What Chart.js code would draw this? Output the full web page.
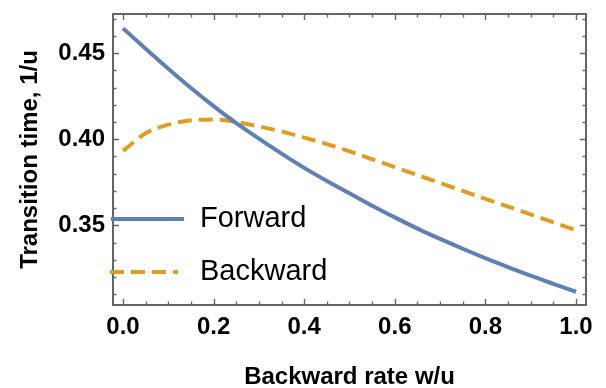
<!DOCTYPE html>
<html>
<head>
<meta charset="utf-8">
<script src="https://cdn.jsdelivr.net/npm/chart.js@4"></script>
<style>
  html, body { margin: 0; padding: 0; background: #fff; }
  #wrap { width: 606px; height: 388px; }
</style>
</head>
<body>
<div id="wrap"><canvas id="chart"></canvas></div>
<script>
// values
const rates = [0, 0.05, 0.1, 0.15, 0.2, 0.25, 0.3, 0.35, 0.4, 0.45, 0.5,
  0.55, 0.6, 0.65, 0.7, 0.75, 0.8, 0.85, 0.9, 0.95, 1.0];
const forward = [0.4645, 0.4526, 0.4410, 0.4298, 0.4193, 0.4094, 0.4004, 0.3917, 0.3834, 0.3758, 0.3686,
  0.3614, 0.3546, 0.3481, 0.3421, 0.3364, 0.3309, 0.3257, 0.3207, 0.3160, 0.3114];
const backward = [0.3932, 0.4035, 0.4085, 0.4110, 0.4115, 0.4100, 0.4075, 0.4045, 0.4010, 0.3972, 0.3930,
  0.3884, 0.3838, 0.3792, 0.3746, 0.3700, 0.3654, 0.3609, 0.3563, 0.3517, 0.3471];
const seriesNames = ['Forward', 'Backward'];

const xTicks = [0, 0.2, 0.4, 0.6, 0.8, 1.0];
const xTickLabels = ['0.0', '0.2', '0.4', '0.6', '0.8', '1.0'];
const yTicks = [0.35, 0.40, 0.45];
const yTickLabels = ['0.35', '0.40', '0.45'];

const FONT = '"Liberation Sans", Arial, Helvetica, sans-serif';
const AXIS = '#666666';

const toPoints = ys => rates.map((x, i) => ({ x: x, y: ys[i] }));

// frame with inward ticks on all four sides
const framePlugin = {
  id: 'frame',
  afterDraw(chart) {
    const { ctx, chartArea: a, scales } = chart;
    const sx = scales.x, sy = scales.y;
    ctx.save();
    ctx.strokeStyle = AXIS;
    ctx.lineWidth = 1.4;
    ctx.beginPath();
    for (let v = 0; v <= 1.0001; v += 0.05) {
      const px = Math.round(sx.getPixelForValue(v)) + 0.5;
      const major = Math.abs(v * 5 - Math.round(v * 5)) < 1e-6;
      const len = major ? 6 : 3.5;
      ctx.moveTo(px, a.bottom); ctx.lineTo(px, a.bottom - len);
      ctx.moveTo(px, a.top); ctx.lineTo(px, a.top + len);
    }
    for (let v = 0.31; v <= 0.4701; v += 0.01) {
      const py = Math.round(sy.getPixelForValue(v)) + 0.5;
      const major = Math.abs(v * 20 - Math.round(v * 20)) < 1e-6;
      const len = major ? 6 : 3.5;
      ctx.moveTo(a.left, py); ctx.lineTo(a.left + len, py);
      ctx.moveTo(a.right, py); ctx.lineTo(a.right - len, py);
    }
    ctx.stroke();
    ctx.lineWidth = 2;
    ctx.strokeRect(a.left, a.top, a.right - a.left, a.bottom - a.top);
    ctx.restore();
  }
};

// legend inside the plot, lower left
const legendPlugin = {
  id: 'insideLegend',
  afterDraw(chart) {
    const { ctx } = chart;
    const rows = [
      { y: 219, x0: 111, x1: 184 },
      { y: 272, x0: 110, x1: 178 }
    ];
    ctx.save();
    chart.data.datasets.forEach((ds, i) => {
      const r = rows[i];
      ctx.strokeStyle = ds.borderColor;
      ctx.lineWidth = ds.borderWidth;
      ctx.setLineDash(ds.borderDash || []);
      ctx.beginPath();
      ctx.moveTo(r.x0, r.y);
      ctx.lineTo(r.x1, r.y);
      ctx.stroke();
      ctx.setLineDash([]);
      ctx.fillStyle = '#000';
      ctx.font = '29px ' + FONT;
      ctx.textBaseline = 'middle';
      ctx.fillText(ds.label, 200, r.y);
    });
    ctx.restore();
  }
};

new Chart(document.getElementById('chart'), {
  type: 'line',
  data: {
    datasets: [
      {
        label: seriesNames[0],
        data: toPoints(forward),
        borderColor: '#5E81B5',
        borderWidth: 4,
        pointRadius: 0,
        cubicInterpolationMode: 'monotone',
        fill: false
      },
      {
        label: seriesNames[1],
        data: toPoints(backward),
        borderColor: '#E19C24',
        borderWidth: 4,
        borderDash: [14, 7],
        pointRadius: 0,
        cubicInterpolationMode: 'monotone',
        fill: false
      }
    ]
  },
  options: {
    responsive: true,
    maintainAspectRatio: false,
    animation: false,
    layout: { padding: { top: 14, right: 20, left: 0, bottom: 0 } },
    plugins: {
      legend: { display: false },
      tooltip: { enabled: false }
    },
    scales: {
      x: {
        type: 'linear',
        min: -0.0221,
        max: 1.0221,
        afterBuildTicks: s => { s.ticks = xTicks.map(v => ({ value: v })); },
        afterFit: s => { s.height = 83; s.paddingLeft = 0; s.paddingRight = 0; },
        grid: { display: false, drawTicks: false },
        border: { display: false },
        ticks: {
          autoSkip: false,
          maxRotation: 0,
          padding: 8,
          color: '#000',
          font: { family: FONT, size: 24, weight: 'bold' },
          callback: (v, i) => xTickLabels[i]
        },
        title: {
          display: true,
          text: 'Backward rate w/u',
          color: '#000',
          font: { family: FONT, size: 24, weight: 'bold', lineHeight: 1 },
          padding: { top: 0, bottom: -1 }
        }
      },
      y: {
        min: 0.3037,
        max: 0.4728,
        afterBuildTicks: s => { s.ticks = yTicks.map(v => ({ value: v })); },
        afterFit: s => { s.width = 113; s.paddingTop = 0; s.paddingBottom = 0; },
        grid: { display: false, drawTicks: false },
        border: { display: false },
        ticks: {
          autoSkip: false,
          padding: 8,
          color: '#000',
          font: { family: FONT, size: 24, weight: 'bold' },
          callback: (v, i) => yTickLabels[i]
        },
        title: {
          display: true,
          text: 'Transition time, 1/u',
          color: '#000',
          font: { family: FONT, size: 24, weight: 'bold', lineHeight: 1 },
          padding: { top: 18, bottom: 0 }
        }
      }
    }
  },
  plugins: [framePlugin, legendPlugin]
});
</script>
</body>
</html>
